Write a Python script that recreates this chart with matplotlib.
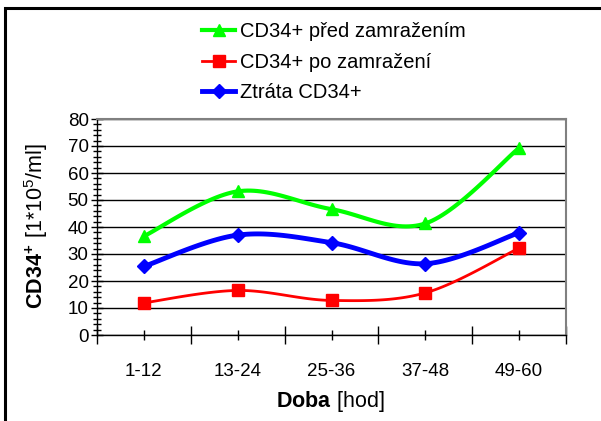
import numpy as np
import matplotlib
matplotlib.use('Agg')
import matplotlib.pyplot as plt
from matplotlib.patches import Rectangle
from matplotlib.ticker import MultipleLocator, FixedLocator, NullFormatter

plt.rcParams['font.family'] = ['Liberation Sans', 'DejaVu Sans']
plt.rcParams['mathtext.fontset'] = 'custom'
plt.rcParams['mathtext.rm'] = 'Liberation Sans'
plt.rcParams['mathtext.bf'] = 'Liberation Sans:bold'

# doba odberu [hod]
categories = ['1-12', '13-24', '25-36', '37-48', '49-60']

# CD34+ [1*10^5/ml]
pred_zamrazenim = [36.6, 53.2, 46.6, 41.3, 69.3]
po_zamrazeni = [11.9, 16.5, 12.8, 15.6, 32.2]
ztrata = [25.4, 37.0, 34.2, 26.4, 37.9]


def smooth(x, y, n=30):
    # Catmull-Rom spline through the points (Excel-like smoothed line)
    x = np.asarray(x, float)
    y = np.asarray(y, float)
    px = np.concatenate([[x[0]], x, [x[-1]]])
    py = np.concatenate([[y[0]], y, [y[-1]]])
    xs, ys = [], []
    t = np.linspace(0, 1, n)
    for i in range(1, len(px) - 2):
        p0, p1, p2, p3 = [np.array([px[j], py[j]]) for j in (i - 1, i, i + 1, i + 2)]
        c1 = p1 + (p2 - p0) / 6.0
        c2 = p2 - (p3 - p1) / 6.0
        b = ((1 - t) ** 3)[:, None] * p1 + (3 * (1 - t) ** 2 * t)[:, None] * c1 \
            + (3 * (1 - t) * t ** 2)[:, None] * c2 + (t ** 3)[:, None] * p2
        xs.extend(b[:, 0])
        ys.extend(b[:, 1])
    return np.array(xs), np.array(ys)


fig = plt.figure(figsize=(6.01, 4.21), dpi=100)
ax = fig.add_axes([97 / 601, 1 - 335 / 421, 469 / 601, 216 / 421])

x = np.arange(len(categories))

series = [
    (pred_zamrazenim, '#00ff00', '^', 9, 3.0, 'CD34+ před zamražením'),
    (po_zamrazeni, '#ff0000', 's', 8, 2.0, 'CD34+ po zamražení'),
    (ztrata, '#0000ff', 'D', 7, 3.5, 'Ztráta CD34+'),
]
handles = []
for vals, col, mk, ms, lw, lab in series:
    sx, sy = smooth(x, vals)
    ax.plot(sx, sy, color=col, lw=lw, zorder=3, solid_capstyle='round')
    ax.plot(x, vals, ls='none', marker=mk, ms=ms, color=col, zorder=4)
    h, = ax.plot([], [], color=col, lw=lw, marker=mk, ms=ms, label=lab)
    handles.append(h)

ax.set_xlim(-0.5, len(categories) - 0.5)
ax.set_ylim(0, 80)

# osa y
ax.yaxis.set_major_locator(MultipleLocator(10))
ax.yaxis.set_minor_locator(MultipleLocator(2))
ax.tick_params(axis='y', which='major', direction='inout', length=8, width=1,
               labelsize=13.5, pad=2)
ax.tick_params(axis='y', which='minor', direction='inout', length=6, width=1)

# osa x: popisky uprostred kategorii, delsi carky na hranicich
ax.set_xticks(x)
ax.set_xticklabels(categories)
ax.xaxis.set_minor_locator(FixedLocator(np.arange(-0.5, len(categories), 1.0)))
ax.xaxis.set_minor_formatter(NullFormatter())
ax.tick_params(axis='x', which='major', direction='inout', length=7, width=1,
               labelsize=13.5, pad=17)
ax.tick_params(axis='x', which='minor', direction='inout', length=13, width=1)

ax.grid(axis='y', which='major', color='black', lw=1)
ax.set_axisbelow(True)
for s in ('top', 'right'):
    ax.spines[s].set_color('#808080')
    ax.spines[s].set_linewidth(1.5)
for s in ('left', 'bottom'):
    ax.spines[s].set_color('black')
    ax.spines[s].set_linewidth(1)

fig.text(331 / 601, 1 - 401 / 421, r'$\mathbf{Doba}\ \mathrm{[hod]}$',
         ha='center', va='center', fontsize=15.5)
fig.text(36 / 601, 1 - 226 / 421, r'$\mathbf{CD34^{+}}\ \mathrm{[1{*}10^{5}/ml]}$',
         ha='center', va='center', rotation=90, fontsize=15.5)

fig.legend(handles=handles, loc='upper left',
           bbox_to_anchor=(202 / 601, 1 - 22 / 421), frameon=False,
           fontsize=14.5, handlelength=1.65, handletextpad=0.25,
           labelspacing=0.58, borderpad=0, borderaxespad=0)

# ramecek kolem celeho grafu
fig.patches.append(Rectangle((4.5 / 601, -0.1), 1.2, 1 - 8.5 / 421 + 0.1,
                             transform=fig.transFigure, fill=False,
                             edgecolor='black', lw=2.2, clip_on=False))

fig.savefig('out.png', dpi=100)
